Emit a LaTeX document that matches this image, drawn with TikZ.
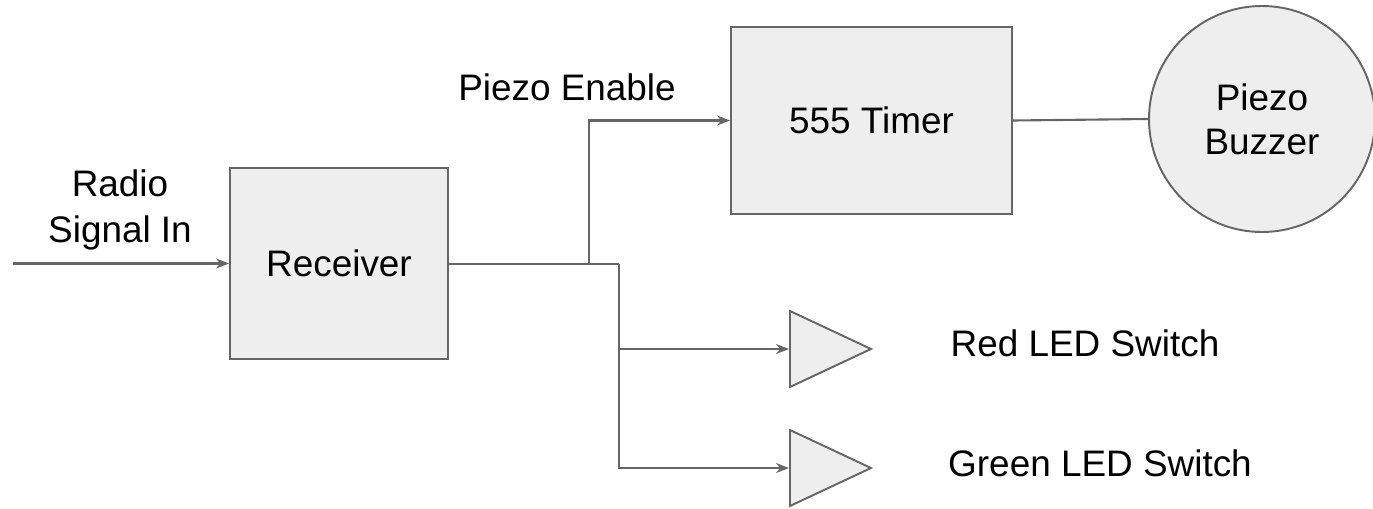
\documentclass[tikz,border=0pt]{standalone}
\usepackage{fontspec}
\setmainfont{Liberation Sans}
\usetikzlibrary{arrows.meta,shapes.geometric}
\definecolor{wiregray}{HTML}{666666}
\definecolor{boxfill}{HTML}{EEEEEE}
\tikzset{
    blockbox/.style={draw=wiregray, fill=boxfill, line width=1.1pt, inner sep=0pt},
    ampbox/.style={draw=wiregray, fill=boxfill, line width=1.1pt, inner sep=0pt,
        isosceles triangle, isosceles triangle stretches,
        minimum width=1.52cm, minimum height=1.62cm},
    wire/.style={draw=wiregray, line width=1.2pt},
    sig/.style={wire, -{Stealth[length=0.26cm, width=0.2cm]}},
    lbl/.style={inner sep=0pt, align=center}
}
\begin{document}
\begin{tikzpicture}[font=\fontsize{21}{25}\selectfont]
        \useasboundingbox (0,0) rectangle (27.46,-10.16);

        \node[blockbox, minimum width=4.36cm, minimum height=3.82cm] (recv) at (6.78,-5.27) {Receiver};
        \node[blockbox, minimum width=5.62cm, minimum height=3.74cm] (timer) at (17.43,-2.41) {555 Timer};
        \node[blockbox, circle, minimum size=4.52cm, align=center] (buzzer) at (25.24,-2.38) {Piezo\\Buzzer};

        \node[ampbox, anchor=lower side] (redsw) at (15.78,-6.98) {};
        \node[ampbox, anchor=lower side] (greensw) at (15.78,-9.36) {};

        \node[lbl] (radiolbl) at (2.4,-4.2) {Radio\\[1pt]Signal In};
        \node[lbl] (enablelbl) at (11.34,-1.74) {Piezo Enable};
        \node[lbl] (redlbl) at (21.7,-6.86) {Red LED Switch};
        \node[lbl] (greenlbl) at (22.0,-9.26) {Green LED Switch};

        \coordinate (inlet) at (0.26,-5.27);
        \coordinate (tap) at (11.78,-5.28);
        \coordinate (split) at (12.38,-5.28);

        \draw[sig] (inlet) -- (recv.west);
        \draw[wire] (recv.east |- split) -- (split);
        \draw[sig] (tap) |- (timer.west);
        \draw[sig] (split) |- (redsw.lower side);
        \draw[sig] (split) |- (greensw.lower side);
        \draw[wire] (timer.east) -- (buzzer.west);
\end{tikzpicture}
\end{document}
